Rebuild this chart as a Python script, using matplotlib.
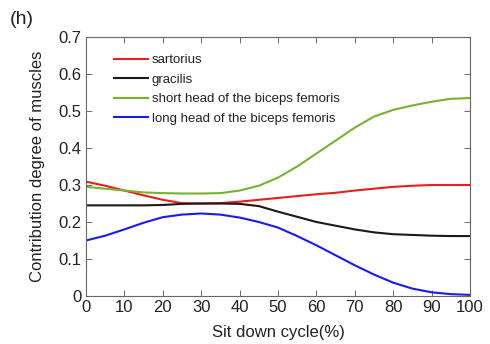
import numpy as np
import matplotlib
matplotlib.use("Agg")
import matplotlib.pyplot as plt

plt.rcParams['font.family'] = ['Liberation Sans', 'DejaVu Sans']
plt.rcParams['text.color'] = '#222222'
plt.rcParams['axes.labelcolor'] = '#222222'
plt.rcParams['xtick.labelcolor'] = '#222222'
plt.rcParams['ytick.labelcolor'] = '#222222'

# contribution degree of each muscle over the sit down cycle
cycle = [0, 5, 10, 15, 20, 25, 30, 35, 40, 45, 50, 55, 60, 65, 70, 75, 80, 85, 90, 95, 100]
sartorius = [0.309, 0.298, 0.285, 0.272, 0.26, 0.251, 0.25, 0.251, 0.255, 0.26, 0.265, 0.27,
             0.275, 0.279, 0.285, 0.29, 0.295, 0.298, 0.3, 0.3, 0.3]
gracilis = [0.245, 0.245, 0.245, 0.245, 0.246, 0.249, 0.25, 0.25, 0.249, 0.243, 0.228, 0.214,
            0.2, 0.19, 0.18, 0.172, 0.167, 0.165, 0.163, 0.162, 0.162]
short_head = [0.295, 0.29, 0.285, 0.28, 0.278, 0.277, 0.277, 0.278, 0.285, 0.298, 0.32, 0.35,
              0.385, 0.42, 0.455, 0.485, 0.503, 0.515, 0.525, 0.533, 0.535]
long_head = [0.15, 0.163, 0.18, 0.198, 0.213, 0.22, 0.223, 0.22, 0.212, 0.2, 0.185, 0.162,
             0.137, 0.11, 0.083, 0.058, 0.036, 0.02, 0.01, 0.005, 0.003]

names = ['sartorius', 'gracilis', 'short head of the biceps femoris',
         'long head of the biceps femoris']
colors = ['#ee1c1c', '#1a1a1a', '#77b233', '#1a1aee']

fig = plt.figure(figsize=(4.9, 3.44), dpi=100)
ax = fig.add_axes([86 / 490, 1 - 296 / 344, 384 / 490, 259 / 344])

for ys, name, col in zip([sartorius, gracilis, short_head, long_head], names, colors):
    ax.plot(cycle, ys, color=col, lw=1.5, label=name)

ax.set_xlim(0, 100)
ax.set_ylim(0, 0.7)
ax.set_xticks(np.arange(0, 101, 10))
ax.set_yticks(np.arange(0, 0.71, 0.1))
ax.set_yticklabels(['0', '0.1', '0.2', '0.3', '0.4', '0.5', '0.6', '0.7'])
ax.tick_params(direction='in', top=True, right=True, length=4, width=0.6,
               labelsize=12, color='#555555', pad=3)
for s in ax.spines.values():
    s.set_color('#666666')
    s.set_linewidth(0.8)

ax.set_xlabel('Sit down cycle(%)', fontsize=12, labelpad=7)
ax.set_ylabel('Contribution degree of muscles', fontsize=12, labelpad=10)

ax.legend(loc='upper left', bbox_to_anchor=(0.049, 0.97), frameon=False, fontsize=9.5,
          handlelength=2.55, handletextpad=0.3, labelspacing=0.55, borderpad=0.2)

fig.text(10 / 490, 1 - 19 / 344, '(h)', fontsize=14, va='center')

fig.savefig('out.png', dpi=100)
